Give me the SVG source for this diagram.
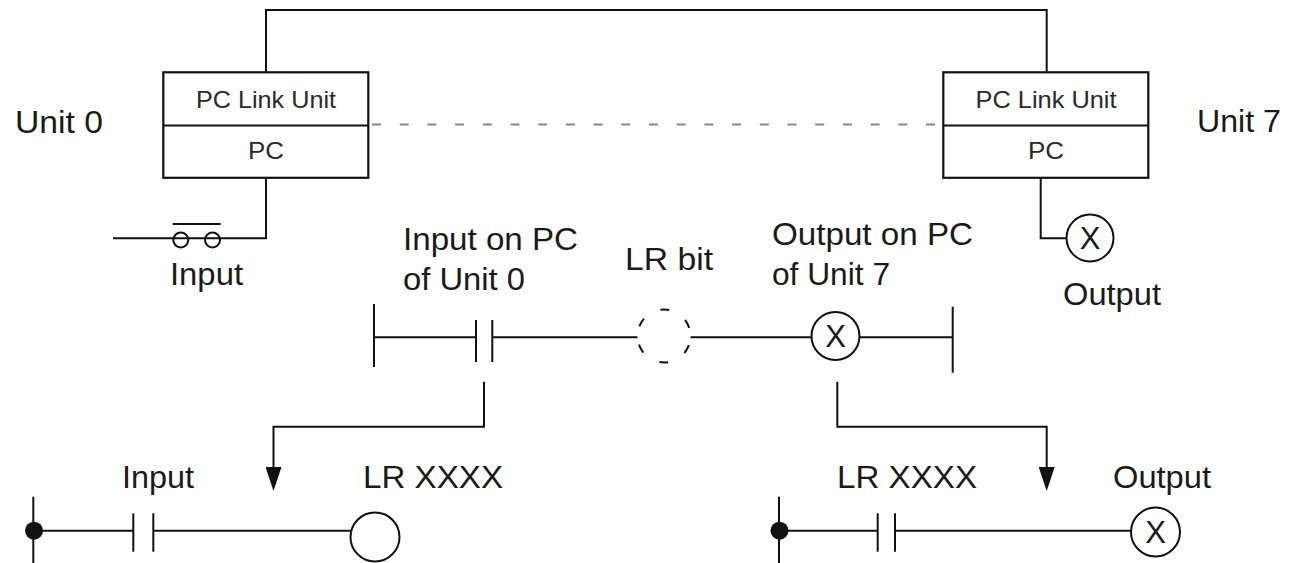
<svg xmlns="http://www.w3.org/2000/svg" width="1289" height="563" viewBox="0 0 1289 563">
<defs>
<style>
.ln{fill:none;stroke:#111;stroke-width:2}
.box{fill:#fff;stroke:#111;stroke-width:2.2}
.lbl{font-family:"Liberation Sans",Arial,sans-serif;font-size:32px;fill:#1a1a1a}
.btx{font-family:"Liberation Sans",Arial,sans-serif;font-size:24px;fill:#2a2a2a;text-anchor:middle}
.coil{fill:#fff;stroke:#111;stroke-width:2}
.cx{font-family:"Liberation Sans",Arial,sans-serif;font-size:31px;fill:#1a1a1a;text-anchor:middle}
.dash{fill:none;stroke:#888;stroke-width:2;stroke-dasharray:9 18.7}
</style>
<marker id="arr" viewBox="0 0 24 16" refX="14" refY="8" markerWidth="24" markerHeight="16" markerUnits="userSpaceOnUse" orient="auto">
<path d="M0,0 L24,8 L0,16 z" fill="#111"/>
</marker>
</defs>
<rect width="1289" height="563" fill="#fff"/>

<g id="connectors">
<path class="ln" d="M266,72 V10 H1046.7 V72"/>
<line class="dash" x1="372" y1="124.5" x2="943" y2="124.5"/>
<path class="ln" d="M266,178 V238.3 H113"/>
<path class="ln" d="M1040.7,178 V238.3 H1066.5"/>
<path class="ln" d="M484,381.7 V426.7 H273.5 V481" marker-end="url(#arr)"/>
<path class="ln" d="M837.3,381.7 V426.7 H1046.7 V481" marker-end="url(#arr)"/>
</g>

<g id="unit0">
<rect class="box" x="163.3" y="72.3" width="205" height="105.5"/>
<line class="ln" x1="163.3" y1="125.5" x2="368.3" y2="125.5" stroke-width="2.2"/>
<text class="btx" x="266" y="107.5" textLength="140" lengthAdjust="spacingAndGlyphs">PC Link Unit</text>
<text class="btx" x="266" y="159" textLength="36" lengthAdjust="spacingAndGlyphs">PC</text>
<text class="lbl" x="15" y="133" textLength="88" lengthAdjust="spacingAndGlyphs">Unit 0</text>
</g>

<g id="unit7">
<rect class="box" x="943.3" y="72.3" width="205" height="105.5"/>
<line class="ln" x1="943.3" y1="125.5" x2="1148.3" y2="125.5" stroke-width="2.2"/>
<text class="btx" x="1046" y="107.5" textLength="141" lengthAdjust="spacingAndGlyphs">PC Link Unit</text>
<text class="btx" x="1046" y="159" textLength="36" lengthAdjust="spacingAndGlyphs">PC</text>
<text class="lbl" x="1197" y="132" textLength="84" lengthAdjust="spacingAndGlyphs">Unit 7</text>
</g>

<g id="input-switch">
<circle class="ln" cx="180.8" cy="240" r="7.5" stroke-width="1.8"/>
<circle class="ln" cx="212.5" cy="240" r="7.5" stroke-width="1.8"/>
<line class="ln" x1="172.7" y1="224" x2="220.7" y2="224"/>
<text class="lbl" x="170" y="285" textLength="73" lengthAdjust="spacingAndGlyphs">Input</text>
</g>

<g id="output-lamp">
<circle class="coil" cx="1090" cy="238" r="23.5"/>
<text class="cx" x="1090" y="249">X</text>
<text class="lbl" x="1063" y="305" textLength="98" lengthAdjust="spacingAndGlyphs">Output</text>
</g>

<g id="ladder-middle">
<line class="ln" x1="374" y1="304" x2="374" y2="367"/>
<line class="ln" x1="374" y1="337.3" x2="476" y2="337.3"/>
<line class="ln" x1="476" y1="320" x2="476" y2="362"/>
<line class="ln" x1="492.3" y1="320" x2="492.3" y2="362"/>
<line class="ln" x1="492.3" y1="337.3" x2="637.5" y2="337.3"/>
<circle cx="664" cy="336" r="26.5" fill="none" stroke="#111" stroke-width="2" stroke-dasharray="9 18.75" stroke-dashoffset="18.4"/>
<line class="ln" x1="690.5" y1="337.3" x2="811.5" y2="337.3"/>
<circle class="coil" cx="835.5" cy="336" r="24"/>
<text class="cx" x="835.5" y="347">X</text>
<line class="ln" x1="859.5" y1="337.3" x2="952.7" y2="337.3"/>
<line class="ln" x1="952.7" y1="306.7" x2="952.7" y2="372.7"/>
<text class="lbl" x="403" y="250" textLength="175" lengthAdjust="spacingAndGlyphs">Input on PC</text>
<text class="lbl" x="403" y="290" textLength="122" lengthAdjust="spacingAndGlyphs">of Unit 0</text>
<text class="lbl" x="625" y="270" textLength="88" lengthAdjust="spacingAndGlyphs">LR bit</text>
<text class="lbl" x="772" y="245" textLength="201" lengthAdjust="spacingAndGlyphs">Output on PC</text>
<text class="lbl" x="772" y="285" textLength="118" lengthAdjust="spacingAndGlyphs">of Unit 7</text>
</g>

<g id="ladder-left">
<line class="ln" x1="33.3" y1="496.7" x2="33.3" y2="563"/>
<circle cx="34" cy="530.7" r="9" fill="#111"/>
<line class="ln" x1="34" y1="530.7" x2="133.3" y2="530.7"/>
<line class="ln" x1="133.3" y1="513.3" x2="133.3" y2="551.7"/>
<line class="ln" x1="153.3" y1="513.3" x2="153.3" y2="551.7"/>
<line class="ln" x1="153.3" y1="530.7" x2="351.5" y2="530.7"/>
<circle class="coil" cx="375" cy="537" r="24.5"/>
<text class="lbl" x="122" y="488.3" textLength="72" lengthAdjust="spacingAndGlyphs">Input</text>
<text class="lbl" x="363" y="488.3" textLength="140" lengthAdjust="spacingAndGlyphs">LR XXXX</text>
</g>

<g id="ladder-right">
<line class="ln" x1="779" y1="496.7" x2="779" y2="563"/>
<circle cx="779.5" cy="530.7" r="9" fill="#111"/>
<line class="ln" x1="779.5" y1="530.7" x2="877.7" y2="530.7"/>
<line class="ln" x1="877.7" y1="513.3" x2="877.7" y2="551.7"/>
<line class="ln" x1="895" y1="513.3" x2="895" y2="551.7"/>
<line class="ln" x1="895" y1="530.7" x2="1131" y2="530.7"/>
<circle class="coil" cx="1155.5" cy="532" r="24.5"/>
<text class="cx" x="1155.5" y="543">X</text>
<text class="lbl" x="837" y="488.3" textLength="140" lengthAdjust="spacingAndGlyphs">LR XXXX</text>
<text class="lbl" x="1113" y="488.3" textLength="98" lengthAdjust="spacingAndGlyphs">Output</text>
</g>
</svg>
